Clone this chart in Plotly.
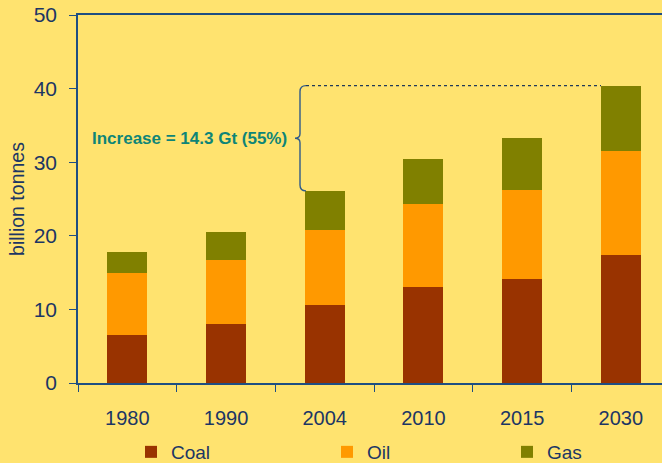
import plotly.graph_objects as go

years = ["1980", "1990", "2004", "2010", "2015", "2030"]
coal = [6.5, 8.0, 10.6, 13.0, 14.1, 17.4]
oil = [8.4, 8.7, 10.2, 11.3, 12.1, 14.1]
gas = [2.9, 3.8, 5.3, 6.1, 7.1, 8.9]
series_names = ["Coal", "Oil", "Gas"]
annotation_text = "Increase = 14.3 Gt (55%)"
y_title = "billion tonnes"

BG = "#FFE36F"
NAVY = "#1C3664"
AXIS = "#1F4E82"
FONT = "Liberation Sans, Arial, sans-serif"
colors = ["#993300", "#FF9900", "#808000"]

totals = [c + o + g for c, o, g in zip(coal, oil, gas)]

fig = go.Figure()
legends = ["legend", "legend2", "legend3"]
for name, vals, col, lg in zip(series_names, [coal, oil, gas], colors, legends):
    fig.add_trace(go.Bar(x=years, y=vals, name=name, marker=dict(color=col, line=dict(width=0)),
                         width=0.405, legend=lg, showlegend=True))

W, H = 662, 463
ml, mr, mt, mb = 78, 0, 15, 80
pw = W - ml - mr

def px2paper(px):
    return (px - ml) / pw

legend_common = dict(orientation="h", xref="container", yref="container",
                     yanchor="middle", y=(H - 452) / H, xanchor="left",
                     bgcolor="rgba(0,0,0,0)", borderwidth=0,
                     font=dict(family=FONT, size=19, color=NAVY))
fig.update_layout(
    width=W, height=H,
    margin=dict(l=ml, r=mr, t=mt, b=mb, autoexpand=False),
    paper_bgcolor=BG, plot_bgcolor=BG,
    barmode="stack",
    font=dict(family=FONT, color=NAVY),
    legend=dict(**legend_common, x=(131) / W),
    legend2=dict(**legend_common, x=(327) / W),
    legend3=dict(**legend_common, x=(507) / W),
    xaxis=dict(type="category", range=[-0.5, 5.417], showline=True, linecolor=AXIS, linewidth=1.5,
               mirror=True, ticks="outside", tickson="boundaries", ticklen=7, tickcolor=AXIS,
               tickfont=dict(family=FONT, size=20, color=NAVY), ticklabelstandoff=16,
               showgrid=False, automargin=False),
    yaxis=dict(range=[0, 50], dtick=10, showline=True, linecolor=AXIS, linewidth=1.5,
               ticks="outside", ticklen=7, tickcolor=AXIS, showgrid=False, zeroline=False,
               tickfont=dict(family=FONT, size=21, color=NAVY), ticklabelstandoff=8,
               automargin=False,
               title=dict(text=y_title, font=dict(family=FONT, size=19.5, color=NAVY), standoff=4)),
)

# bracket spanning 2004 total to 2030 total
y_top = totals[-1]
y_bot = totals[2]
y_mid = (y_top + y_bot) / 2
xb = px2paper(300)
xt = px2paper(295)
xc = px2paper(306)
r = 0.8
path = (f"M{xc},{y_top} Q{xb},{y_top} {xb},{y_top - r} "
        f"L{xb},{y_mid + 0.6} Q{xb},{y_mid} {xt},{y_mid} "
        f"Q{xb},{y_mid} {xb},{y_mid - 0.6} "
        f"L{xb},{y_bot + r} Q{xb},{y_bot} {xc},{y_bot}")
fig.add_shape(type="path", path=path, xref="paper", yref="y",
              line=dict(color="#2F5A8A", width=1.4))
fig.add_shape(type="line", xref="paper", yref="y", x0=xc, x1=px2paper(601), y0=y_top, y1=y_top,
              line=dict(color="#1F3A5A", width=1.2, dash="dot"))

fig.add_annotation(text=f"<b>{annotation_text}</b>", xref="paper", yref="y",
                   x=px2paper(289), y=y_mid, xanchor="right", yanchor="middle", showarrow=False,
                   font=dict(family=FONT, size=17, color="#0E8577"))

fig.write_html("out.html", config={"displayModeBar": False},
               post_script="document.body.style.margin='0';document.body.style.overflow='hidden';")
